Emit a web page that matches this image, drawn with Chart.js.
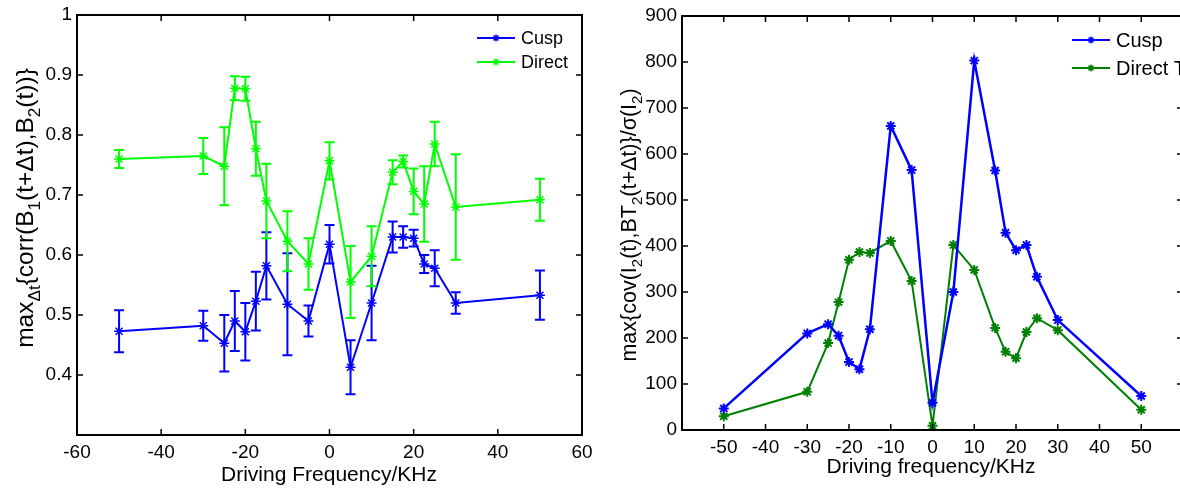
<!DOCTYPE html>
<html>
<head>
<meta charset="utf-8">
<script src="https://cdn.jsdelivr.net/npm/chart.js@4.4.0/dist/chart.umd.min.js"></script>
<style>
  html, body { margin: 0; padding: 0; background: #fff; overflow: hidden; width: 1180px; height: 488px; }
  #wrapL { position: absolute; left: 0; top: 0; width: 600px; height: 488px; }
  #wrapR { position: absolute; left: 590px; top: 0; width: 600px; height: 488px; }
  canvas { display: block; }
</style>
</head>
<body>
<div id="wrapL"><canvas id="left" width="600" height="488"></canvas></div>
<div id="wrapR"><canvas id="right" width="600" height="488"></canvas></div>
<script>
// Driving frequencies (kHz)
const freq = [-50, -30, -25, -22.5, -20, -17.5, -15, -10, -5, 0, 5, 10, 15, 17.5, 20, 22.5, 25, 30, 50];

// Left panel: peak lagged correlation with error bars
const corrCusp      = [0.473, 0.482, 0.453, 0.490, 0.472, 0.523, 0.582, 0.518, 0.490, 0.618, 0.413, 0.520, 0.630, 0.630, 0.628, 0.585, 0.578, 0.520, 0.533];
const corrCuspErr   = [0.035, 0.025, 0.047, 0.050, 0.048, 0.049, 0.056, 0.085, 0.026, 0.032, 0.045, 0.062, 0.026, 0.018, 0.014, 0.015, 0.030, 0.018, 0.041];
const corrDirect    = [0.760, 0.765, 0.748, 0.878, 0.877, 0.777, 0.690, 0.623, 0.585, 0.757, 0.555, 0.598, 0.738, 0.756, 0.706, 0.685, 0.785, 0.680, 0.692];
const corrDirectErr = [0.015, 0.030, 0.065, 0.020, 0.020, 0.045, 0.062, 0.050, 0.043, 0.031, 0.060, 0.050, 0.020, 0.010, 0.038, 0.063, 0.037, 0.088, 0.035];

// Right panel: normalised peak covariance
const covCusp   = [47, 210, 230, 205, 148, 132, 219, 661, 565, 59, 300, 803, 564, 429, 391, 402, 333, 239, 74];
const covDirect = [30, 83, 189, 278, 370, 387, 385, 411, 324, 9, 402, 348, 222, 170, 156, 213, 243, 217, 44];

// Tick values
const xTicksLeft  = [-60, -40, -20, 0, 20, 40, 60];
const yTicksLeft  = [0.4, 0.5, 0.6, 0.7, 0.8, 0.9, 1];
const xTicksRight = [-50, -40, -30, -20, -10, 0, 10, 20, 30, 40, 50];
const yTicksRight = [0, 100, 200, 300, 400, 500, 600, 700, 800, 900];

const FONT = '"Liberation Sans", Arial, sans-serif';

function pts(xs, ys) { return xs.map((x, i) => ({ x: x, y: ys[i] })); }

function drawStar(ctx, x, y, r, color, lw) {
  ctx.save();
  ctx.strokeStyle = color;
  ctx.lineWidth = lw;
  ctx.beginPath();
  ctx.moveTo(x - r, y); ctx.lineTo(x + r, y);
  ctx.moveTo(x, y - r); ctx.lineTo(x, y + r);
  const d = r * 0.7071;
  ctx.moveTo(x - d, y - d); ctx.lineTo(x + d, y + d);
  ctx.moveTo(x - d, y + d); ctx.lineTo(x + d, y - d);
  ctx.stroke();
  ctx.restore();
}

// Text made of normal and subscript runs
function richWidth(ctx, parts, size) {
  let w = 0;
  parts.forEach(p => {
    ctx.font = (p.sub ? size * 0.7 : size) + 'px ' + FONT;
    w += ctx.measureText(p.t).width;
  });
  return w;
}
function drawRich(ctx, parts, size, x, y) {
  let cx = x;
  ctx.textBaseline = 'alphabetic';
  ctx.textAlign = 'left';
  parts.forEach(p => {
    const s = p.sub ? size * 0.7 : size;
    ctx.font = s + 'px ' + FONT;
    ctx.fillText(p.t, cx, p.sub ? y + size * 0.28 : y);
    cx += ctx.measureText(p.t).width;
  });
}

const framePlugin = {
  id: 'frame',
  afterDatasetsDraw(chart, args, o) {
    const ctx = chart.ctx;
    const a = chart.chartArea;
    const xs = chart.scales.x, ys = chart.scales.y;

    // error bars
    chart.data.datasets.forEach(ds => {
      if (!ds.errors) return;
      ctx.save();
      ctx.strokeStyle = ds.borderColor;
      ctx.lineWidth = 2;
      ds.data.forEach((p, i) => {
        const e = ds.errors[i];
        const px = xs.getPixelForValue(p.x);
        const y1 = ys.getPixelForValue(p.y + e), y2 = ys.getPixelForValue(p.y - e);
        ctx.beginPath();
        ctx.moveTo(px, y1); ctx.lineTo(px, y2);
        ctx.moveTo(px - 5, y1); ctx.lineTo(px + 5, y1);
        ctx.moveTo(px - 5, y2); ctx.lineTo(px + 5, y2);
        ctx.stroke();
      });
      ctx.restore();
    });

    // box and inward ticks on all four sides
    ctx.save();
    ctx.strokeStyle = '#000';
    ctx.lineWidth = 2;
    ctx.strokeRect(a.left, a.top, a.right - a.left, a.bottom - a.top);
    ctx.beginPath();
    o.xTicks.forEach(v => {
      const px = xs.getPixelForValue(v);
      ctx.moveTo(px, a.bottom); ctx.lineTo(px, a.bottom - 6);
      ctx.moveTo(px, a.top); ctx.lineTo(px, a.top + 6);
    });
    o.yTicks.forEach(v => {
      const py = ys.getPixelForValue(v);
      ctx.moveTo(a.left, py); ctx.lineTo(a.left + 6, py);
      ctx.moveTo(a.right, py); ctx.lineTo(a.right - 6, py);
    });
    ctx.lineWidth = 1.5;
    ctx.stroke();
    ctx.restore();

    // legend
    ctx.save();
    o.legend.items.forEach((it, k) => {
      const y = o.legend.y + k * o.legend.gap;
      ctx.strokeStyle = it.color;
      ctx.lineWidth = 2;
      ctx.beginPath();
      ctx.moveTo(o.legend.x, y); ctx.lineTo(o.legend.x + 38, y);
      ctx.stroke();
      drawStar(ctx, o.legend.x + 19, y, 3.5, it.color, 1.5);
      ctx.fillStyle = '#000';
      ctx.font = o.legend.size + 'px ' + FONT;
      ctx.textBaseline = 'middle';
      ctx.textAlign = 'left';
      if (o.legend.wordSpacing !== undefined) ctx.wordSpacing = o.legend.wordSpacing;
      ctx.fillText(it.text, o.legend.x + 44, y + 1);
    });
    ctx.restore();

    // axis titles
    ctx.save();
    ctx.fillStyle = '#000';
    ctx.font = o.xTitle.size + 'px ' + FONT;
    ctx.textAlign = 'center';
    ctx.textBaseline = 'alphabetic';
    ctx.fillText(o.xTitle.text, o.xTitle.x, o.xTitle.y);
    const w = richWidth(ctx, o.yTitle.parts, o.yTitle.size);
    ctx.translate(o.yTitle.x, o.yTitle.y);
    ctx.rotate(-Math.PI / 2);
    drawRich(ctx, o.yTitle.parts, o.yTitle.size, -w / 2, 0);
    ctx.restore();
  }
};

function makeScales(xMin, xMax, xTicks, yMin, yMax, yTicks, yFmt, yWidth, xHeight, xPad) {
  return {
    x: {
      type: 'linear', min: xMin, max: xMax,
      afterBuildTicks: s => { s.ticks = xTicks.map(v => ({ value: v })); },
      afterFit: s => { s.height = xHeight; s.paddingLeft = 0; s.paddingRight = 0; },
      grid: { display: false, drawTicks: false },
      border: { display: false },
      ticks: { color: '#000', padding: xPad, maxRotation: 0, autoSkip: false, font: { family: FONT, size: 19 } }
    },
    y: {
      type: 'linear', min: yMin, max: yMax,
      afterBuildTicks: s => { s.ticks = yTicks.map(v => ({ value: v })); },
      afterFit: s => { s.width = yWidth; s.paddingTop = 0; s.paddingBottom = 0; },
      grid: { display: false, drawTicks: false },
      border: { display: false },
      ticks: { color: '#000', padding: 5, autoSkip: false, font: { family: FONT, size: 19 }, callback: yFmt }
    }
  };
}

// Left panel
new Chart(document.getElementById('left'), {
  type: 'line',
  data: {
    datasets: [
      { label: 'Cusp', data: pts(freq, corrCusp), errors: corrCuspErr, borderColor: '#0000ff', backgroundColor: '#0000ff',
        borderWidth: 2, pointStyle: 'star', pointRadius: 5, pointBorderWidth: 1.5, fill: false, tension: 0 },
      { label: 'Direct', data: pts(freq, corrDirect), errors: corrDirectErr, borderColor: '#00ff00', backgroundColor: '#00ff00',
        borderWidth: 2, pointStyle: 'star', pointRadius: 5, pointBorderWidth: 1.5, fill: false, tension: 0 }
    ]
  },
  options: {
    responsive: false, animation: false,
    layout: { padding: { left: 0, right: 18, top: 15, bottom: 0 } },
    scales: makeScales(-60, 60, xTicksLeft, 0.3, 1, yTicksLeft, v => (v === 1 ? '1' : v.toFixed(1)), 77, 53, 6),
    plugins: {
      legend: { display: false }, tooltip: { enabled: false },
      frame: {
        xTicks: xTicksLeft, yTicks: yTicksLeft,
        legend: { x: 477, y: 38, gap: 24, size: 18, items: [{ text: 'Cusp', color: '#0000ff' }, { text: 'Direct', color: '#00ff00' }] },
        xTitle: { text: 'Driving Frequency/KHz', x: 329, y: 481, size: 21 },
        yTitle: { x: 33, y: 208, size: 24.5, parts: [
          { t: 'max' }, { t: 'Δt', sub: true }, { t: '{corr(B' }, { t: '1', sub: true },
          { t: '(t+Δt),B' }, { t: '2', sub: true }, { t: '(t))}' } ] }
      }
    }
  },
  plugins: [framePlugin]
});

// Right panel
new Chart(document.getElementById('right'), {
  type: 'line',
  data: {
    datasets: [
      { label: 'Cusp', data: pts(freq, covCusp), borderColor: '#0000ff', backgroundColor: '#0000ff',
        borderWidth: 2.5, pointStyle: 'star', pointRadius: 5, pointBorderWidth: 2, fill: false, tension: 0 },
      { label: 'Direct', data: pts(freq, covDirect), borderColor: '#008000', backgroundColor: '#008000',
        borderWidth: 2, pointStyle: 'star', pointRadius: 5, pointBorderWidth: 2, fill: false, tension: 0 }
    ]
  },
  options: {
    responsive: false, animation: false,
    layout: { padding: { left: 0, right: 7, top: 16, bottom: 0 } },
    scales: makeScales(-60, 60, xTicksRight, 0, 900, yTicksRight, v => String(v), 92, 58, 6),
    plugins: {
      legend: { display: false }, tooltip: { enabled: false },
      frame: {
        xTicks: xTicksRight, yTicks: yTicksRight,
        legend: { x: 482, y: 40, gap: 28, size: 20, wordSpacing: '0px', items: [{ text: 'Cusp', color: '#0000ff' }, { text: 'Direct T', color: '#008000' }] },
        xTitle: { text: 'Driving frequency/KHz', x: 341, y: 473, size: 21 },
        yTitle: { x: 46, y: 225, size: 21.5, parts: [
          { t: 'max{cov(I' }, { t: '2', sub: true }, { t: '(t),BT' }, { t: '2', sub: true },
          { t: '(t+Δt)}/σ(I' }, { t: '2', sub: true }, { t: ')' } ] }
      }
    }
  },
  plugins: [framePlugin]
});
</script>
</body>
</html>
